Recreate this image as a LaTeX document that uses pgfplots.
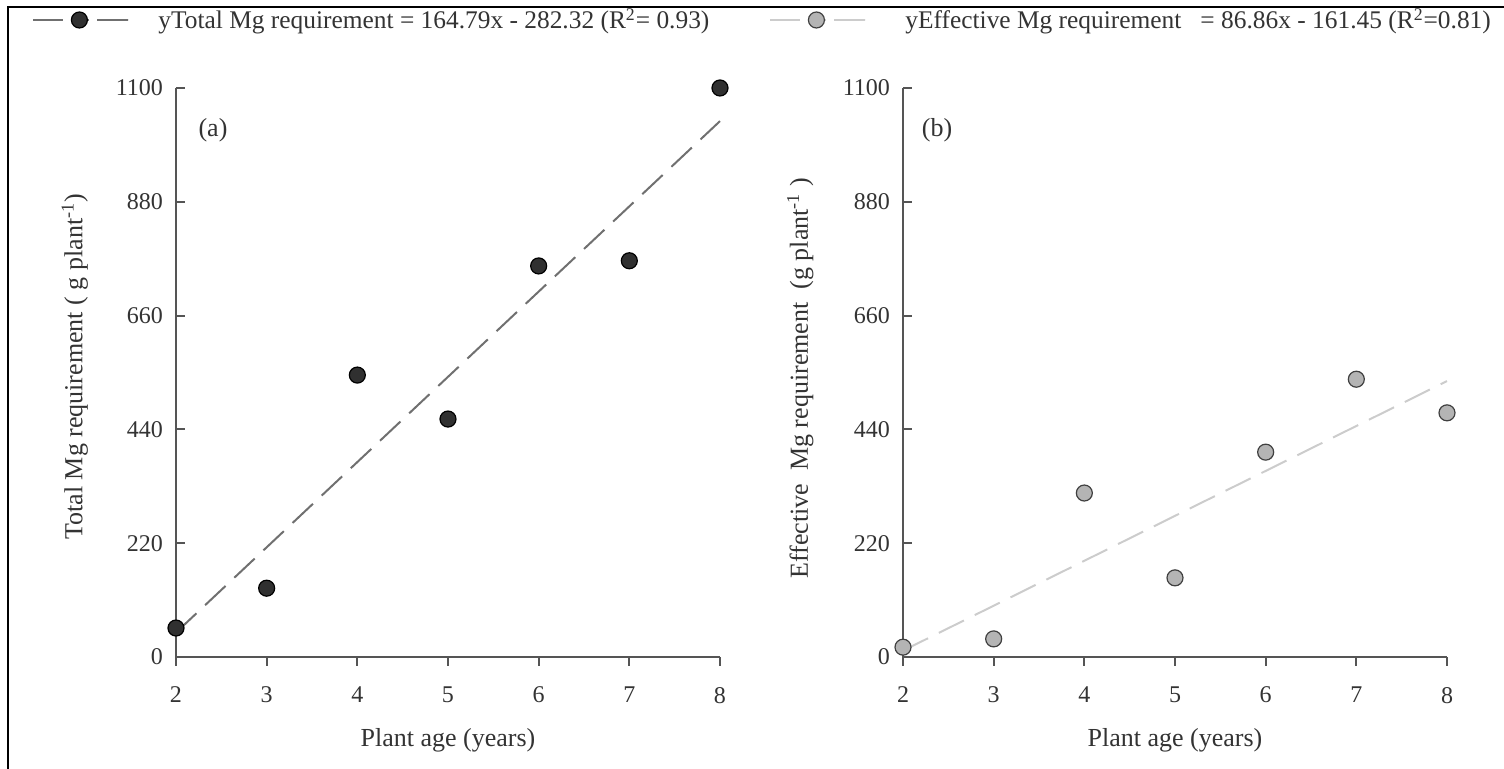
\documentclass[border=0pt]{standalone}
\usepackage{pgfplots}
\pgfplotsset{compat=1.18}
\usepackage{fontspec}
\setmainfont{Liberation Serif}

\definecolor{axisgray}{HTML}{555555}
\definecolor{txt}{HTML}{333333}
\definecolor{darkpt}{HTML}{303030}
\definecolor{lightpt}{HTML}{B4B4B4}
\definecolor{darkline}{HTML}{707070}
\definecolor{lightline}{HTML}{CCCCCC}

\newcommand{\fs}{\fontsize{12}{14}\selectfont}
\newcommand{\fl}{\fontsize{13}{15}\selectfont}
\newcommand{\fg}{\fontsize{12.7}{15}\selectfont}

\pgfplotsset{panel/.style={
    scale only axis, width=272pt, height=284.5pt,
    xmin=2, xmax=8, ymin=0, ymax=1100,
    xtick={2,...,8}, ytick={0,220,...,1100},
    axis x line=bottom, axis y line=left,
    axis line style={axisgray, line width=1pt, -},
    tick style={axisgray, line width=1pt},
    major tick length=4.5pt,
    xtick align=outside, ytick align=inside,
    tick label style={font=\fs, text=txt},
    /pgf/number format/assume math mode=true,
    /pgf/number format/1000 sep={},
    xticklabel style={yshift=-7pt},
    yticklabel style={xshift=-3pt},
    label style={font=\fl, text=txt},
    xlabel style={at={(axis description cs:0.5,-0.146)}, anchor=center},
    ylabel style={at={(axis description cs:-0.186,0.51)}, anchor=center},
    clip=false,
    legend style={draw=none, fill=none, inner sep=0pt, font=\fg, text=txt,
        nodes={inner sep=0pt}},
    legend image code/.code={
        \draw[##1, dash pattern=on 15pt off 4pt on 9pt off 4pt on 15.5pt off 0pt]
            (0pt,0pt) -- (47.5pt,0pt);
        \draw[##1] plot coordinates {(23pt,0pt)};
    },
}}

\begin{document}
\begin{tikzpicture}
\useasboundingbox (0,0) rectangle (752pt,384.5pt);
\draw[line width=1pt] (4pt,0pt) -- (4pt,381pt) -- (752pt,381pt);

% (a) total requirement
\begin{axis}[panel, at={(88pt,56pt)}, anchor=south west,
    xlabel={Plant age (years)},
    ylabel={Total Mg requirement ( g plant\textsuperscript{-1})},
    legend style={at={(axis description cs:-0.2647,1.1195)}, anchor=west,
        /tikz/every odd column/.append style={column sep=14.5pt}}]
\addplot[darkline, line width=1pt, dash pattern=on 14pt off 6pt, forget plot]
    coordinates {(2,47.26) (8,1035.96)};
\addplot[only marks, mark=*, mark size=4pt, mark options={fill=darkpt, draw=black, line width=0.6pt}, forget plot]
    coordinates {(2,56) (3,133) (4,545) (5,460) (6,756) (7,766) (8,1100)};
\addlegendimage{darkline, line width=1pt, mark=*, mark size=4pt, mark options={fill=darkpt, draw=black, solid, line width=0.6pt}}
\addlegendentry{yTotal Mg requirement = 164.79x - 282.32 (R\textsuperscript{2}= 0.93)}
\node[font=\fl, text=txt] at (axis description cs:0.068,0.926) {(a)};
\end{axis}

% (b) effective requirement
\begin{axis}[panel, at={(451.5pt,56pt)}, anchor=south west,
    xlabel={Plant age (years)},
    ylabel={Effective\ \ Mg requirement\ \ (g plant\textsuperscript{-1} )},
    ylabel style={at={(axis description cs:-0.189,0.49)}},
    legend style={at={(axis description cs:-0.2463,1.1195)}, anchor=west,
        /tikz/every odd column/.append style={column sep=19.5pt}}]
\addplot[lightline, line width=1pt, dash pattern=on 14pt off 6pt, forget plot]
    coordinates {(2,12.27) (8,533.43)};
\addplot[only marks, mark=*, mark size=4pt, mark options={fill=lightpt, draw=black!75, line width=0.6pt}, forget plot]
    coordinates {(2,19) (3,35) (4,317) (5,153) (6,396) (7,537) (8,472)};
\addlegendimage{lightline, line width=1pt, mark=*, mark size=4pt, mark options={fill=lightpt, draw=black!75, solid, line width=0.6pt}}
\addlegendentry{yEffective Mg requirement\ \ \ = 86.86x - 161.45 (R\textsuperscript{2}=0.81)}
\node[font=\fl, text=txt] at (axis description cs:0.0625,0.926) {(b)};
\end{axis}
\end{tikzpicture}
\end{document}
